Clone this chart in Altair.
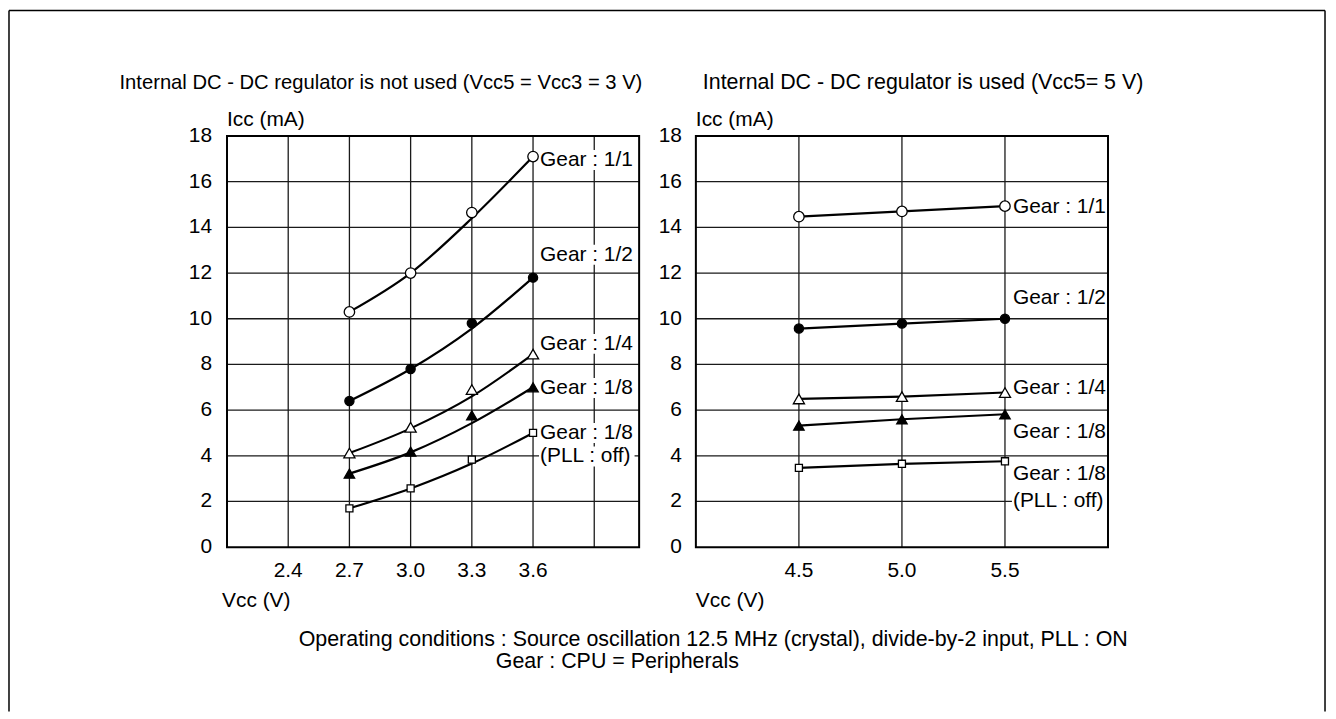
import altair as alt
import pandas as pd

FONT = "Liberation Sans"
FS_TICK = 21
FS_LABEL = 21
FS_TITLE_L = 20.3
FS_TITLE_R = 21.5
FS_NOTE = 21.5

# ---------------- data: left panel (internal DC-DC regulator not used) -------------
left_vcc = [2.7, 3.0, 3.3, 3.6]
left_g11 = [10.3, 12.0, 14.65, 17.1]
left_g12 = [6.4, 7.8, 9.8, 11.8]
left_g14 = [4.12, 5.25, 6.9, 8.45]
left_g18 = [3.22, 4.18, 5.77, 7.0]
left_g18off = [1.7, 2.57, 3.83, 5.0]
# drawn (fitted) curves read at the same Vcc values
left_g11_curve = [10.3, 12.0, 14.4, 17.1]
left_g12_curve = [6.4, 7.8, 9.57, 11.8]
left_g14_curve = [4.12, 5.2, 6.6, 8.45]
left_g18_curve = [3.22, 4.15, 5.43, 7.0]
left_g18off_curve = [1.7, 2.57, 3.66, 5.0]

# ---------------- data: right panel (internal DC-DC regulator used) ----------------
right_vcc = [4.5, 5.0, 5.5]
right_g11 = [14.47, 14.7, 14.93]
right_g12 = [9.57, 9.79, 10.0]
right_g14 = [6.49, 6.59, 6.77]
right_g18 = [5.32, 5.6, 5.82]
right_g18off = [3.47, 3.65, 3.76]

series = ["Gear 1/1", "Gear 1/2", "Gear 1/4", "Gear 1/8", "Gear 1/8 PLL off"]

# axes / grid
icc_ticks = [0, 2, 4, 6, 8, 10, 12, 14, 16, 18]
icc_grid = [2, 4, 6, 8, 10, 12, 14, 16]
left_domain = [2.1, 4.12]
left_grid = [2.4, 2.7, 3.0, 3.3, 3.6, 3.9]
left_ticks = [2.4, 2.7, 3.0, 3.3, 3.6]
left_tick_labels = ["2.4", "2.7", "3.0", "3.3", "3.6"]
right_domain = [4.0, 6.0]
right_grid = [4.5, 5.0, 5.5]
right_ticks = [4.5, 5.0, 5.5]
right_tick_labels = ["4.5", "5.0", "5.5"]

# series labels
label_text = ["Gear : 1/1", "Gear : 1/2", "Gear : 1/4", "Gear : 1/8", "Gear : 1/8", "(PLL : off)"]
left_label_icc = [16.95, 12.8, 8.9, 6.97, 5.0, 3.97]
right_label_icc = [14.9, 10.9, 6.97, 5.05, 3.18, 2.0]

# styles
marker_shapes = ["circle", "circle", "triangle-up", "triangle-up", "square"]
marker_fills = ["white", "black", "white", "black", "white"]
marker_sizes = [110, 85, 125, 110, 50]

W, H = 1326, 705
Y_RANGE = [540, 127]


def long_df(vcc, lists):
    rows = []
    for s, vals in zip(series, lists):
        for v, i in zip(vcc, vals):
            rows.append({"series": s, "vcc": v, "icc": i})
    return pd.DataFrame(rows)


def box_path(dx, w, h):
    # white label background, symbol units are pixels / 10 at size 400
    x0, x1, hh = (dx - 1) / 10, (dx + w) / 10, h / 20
    return f"M{x0},{-hh}L{x1},{-hh}L{x1},{hh}L{x0},{hh}Z"


def panel(vcc, pts, curves, xdom, xrange, grid_x, ticks, tick_labels,
          lab_x, lab_icc, lab_dx, ylab_x, interp):
    xs = alt.Scale(domain=xdom, range=xrange, nice=False, zero=False)
    ys = alt.Scale(domain=[0, 18], range=Y_RANGE, nice=False, zero=False)

    def X(f):
        return alt.X(f, type="quantitative", scale=xs, axis=None)

    def Y(f):
        return alt.Y(f, type="quantitative", scale=ys, axis=None)

    vgrid = alt.Chart(pd.DataFrame({"vcc": grid_x, "lo": 0, "hi": 18})).mark_rule(
        color="#1a1a1a", strokeWidth=1.3).encode(x=X("vcc"), y=Y("lo"), y2="hi")
    hgrid = alt.Chart(pd.DataFrame({"icc": icc_grid, "lo": xdom[0], "hi": xdom[1]})).mark_rule(
        color="#1a1a1a", strokeWidth=1.3).encode(y=Y("icc"), x=X("lo"), x2="hi")
    border = alt.Chart(pd.DataFrame({"x0": [xdom[0]], "x1": [xdom[1]], "y0": [0], "y1": [18]})).mark_rect(
        fillOpacity=0, stroke="black", strokeWidth=2).encode(x=X("x0"), x2="x1", y=Y("y0"), y2="y1")

    labdf = pd.DataFrame({"t": label_text, "icc": lab_icc, "vcc": lab_x})
    boxes = alt.Chart(labdf).mark_point(
        shape=box_path(lab_dx, 95, 20), filled=True, fill="white", strokeWidth=0,
        size=400, opacity=1).encode(x=X("vcc"), y=Y("icc"))
    labels = alt.Chart(labdf).mark_text(
        align="left", baseline="middle", dx=lab_dx, font=FONT, fontSize=FS_LABEL,
        color="black").encode(x=X("vcc"), y=Y("icc"), text="t")

    xt = alt.Chart(pd.DataFrame({"vcc": ticks, "t": tick_labels})).mark_text(
        align="center", baseline="middle", font=FONT, fontSize=FS_TICK, color="black").encode(
        x=X("vcc"), y=alt.value(564), text="t")
    yt = alt.Chart(pd.DataFrame({"icc": icc_ticks, "t": [str(v) for v in icc_ticks]})).mark_text(
        align="right", baseline="middle", font=FONT, fontSize=FS_TICK, color="black").encode(
        y=Y("icc"), x=alt.value(ylab_x), text="t")

    cdf = long_df(vcc, curves)
    lines = alt.Chart(cdf).mark_line(
        color="black", strokeWidth=2.2, interpolate=interp).encode(
        x=X("vcc"), y=Y("icc"), detail="series:N")

    pdf = long_df(vcc, pts)
    point_layers = []
    for s, shp, fl, sz in zip(series, marker_shapes, marker_fills, marker_sizes):
        point_layers.append(
            alt.Chart(pdf).transform_filter(alt.datum.series == s).mark_point(
                shape=shp, filled=True, fill=fl, stroke="black", strokeWidth=1.3,
                size=sz, opacity=1).encode(x=X("vcc"), y=Y("icc")))

    return alt.layer(vgrid, hgrid, boxes, border, lines, *point_layers, labels, xt, yt)


left = panel(left_vcc,
             [left_g11, left_g12, left_g14, left_g18, left_g18off],
             [left_g11_curve, left_g12_curve, left_g14_curve, left_g18_curve, left_g18off_curve],
             left_domain, [220, 634], left_grid, left_ticks, left_tick_labels,
             3.6, left_label_icc, 7, 205, "monotone")

right = panel(right_vcc,
              [right_g11, right_g12, right_g14, right_g18, right_g18off],
              [right_g11, right_g12, right_g14, right_g18, right_g18off],
              right_domain, [691, 1105], right_grid, right_ticks, right_tick_labels,
              5.5, right_label_icc, 8, 677, "linear")

one = pd.DataFrame({"d": [0]})


def txt(s, x, y, size, align="left"):
    return alt.Chart(one).mark_text(
        text=s, align=align, baseline="middle", font=FONT, fontSize=size, color="black").encode(
        x=alt.value(x), y=alt.value(y))


deco = [
    txt("Internal DC - DC regulator is not used (Vcc5 = Vcc3 = 3 V)", 112, 74, FS_TITLE_L),
    txt("Internal DC - DC regulator is used (Vcc5= 5 V)", 698, 74, FS_TITLE_R),
    txt("Icc (mA)", 220, 111, FS_TICK),
    txt("Icc (mA)", 691, 111, FS_TICK),
    txt("Vcc (V)", 215, 594, FS_TICK),
    txt("Vcc (V)", 691, 594, FS_TICK),
    txt("Operating conditions : Source oscillation 12.5 MHz (crystal), divide-by-2 input, PLL : ON", 292, 633, FS_NOTE),
    txt("Gear : CPU = Peripherals", 490, 655, FS_NOTE),
    # outer frame (top, left, right)
    alt.Chart(one).mark_rule(color="black", strokeWidth=1.5).encode(
        x=alt.value(1), x2=alt.value(W - 3), y=alt.value(1)),
    alt.Chart(one).mark_rule(color="black", strokeWidth=1.5).encode(
        x=alt.value(1), y=alt.value(1), y2=alt.value(H)),
    alt.Chart(one).mark_rule(color="black", strokeWidth=1.5).encode(
        x=alt.value(W - 3), y=alt.value(1), y2=alt.value(H)),
]

chart = alt.layer(left, right, *deco).resolve_scale(x="independent").properties(
    width=W, height=H, padding=0, autosize=alt.AutoSizeParams(type="none"),
    background="white").configure_view(strokeWidth=0)

chart.save("out.html", embed_options={"renderer": "svg", "actions": False})
